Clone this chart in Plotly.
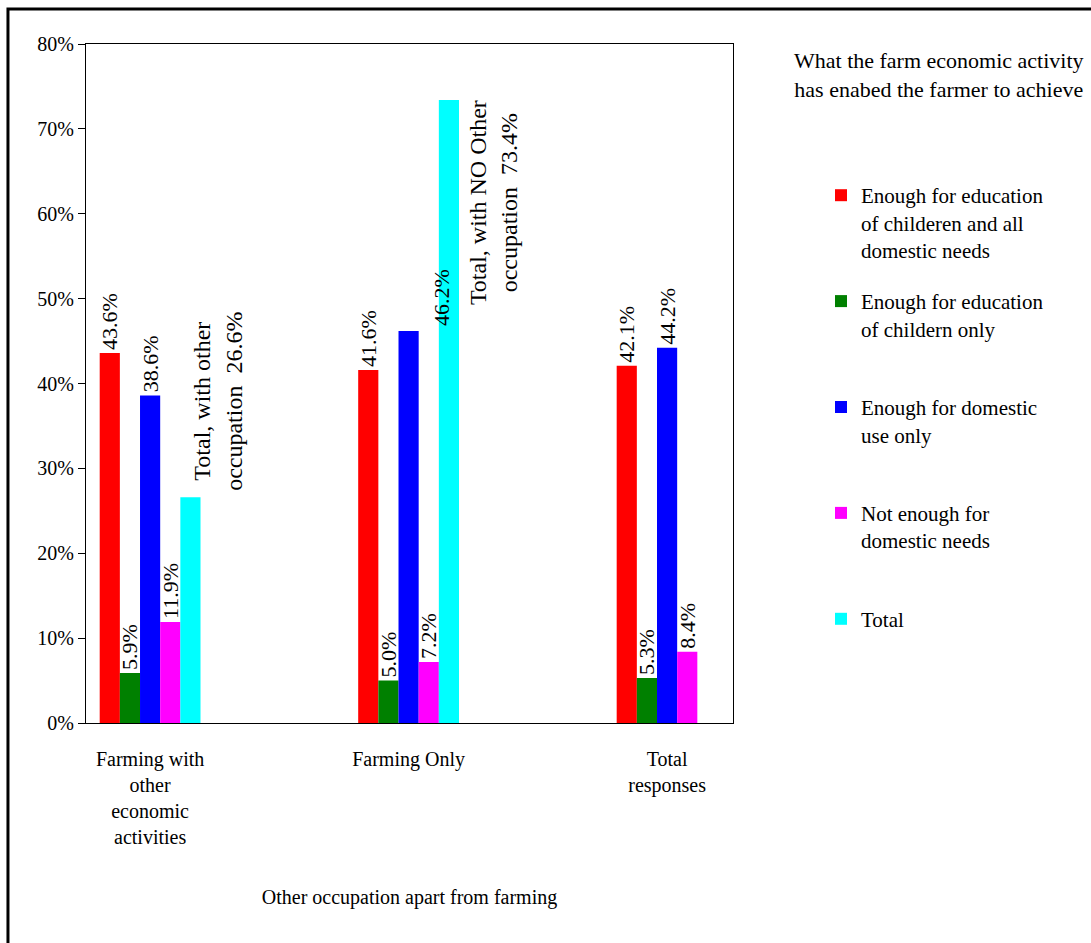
import plotly.graph_objects as go

# Categories (other occupation apart from farming)
categories = ["Farming with<br>other<br>economic<br>activities", "Farming Only", "Total<br>responses"]

# What the farm economic activity enabled the farmer to achieve (% of respondents)
series_names = [
    "Enough for education<br>of childeren and all<br>domestic needs",
    "Enough for education<br>of childern only<br>\u00a0",
    "Enough for domestic<br>use only<br>\u00a0",
    "Not enough for<br>domestic needs<br>\u00a0",
    "Total",
]
edu_and_domestic = [43.6, 41.6, 42.1]
edu_only = [5.9, 5.0, 5.3]
domestic_only = [38.6, 46.2, 44.2]
not_enough = [11.9, 7.2, 8.4]
total_share = [26.6, 73.4, None]

total_labels = ["Total, with other<br>occupation  {:.1f}%", "Total, with NO Other<br>occupation  {:.1f}%"]

colors = ["#FF0000", "#008000", "#0000FF", "#FF00FF", "#00FFFF"]
FONT = "Liberation Serif"

x_pos = list(range(len(categories)))
all_series = [edu_and_domestic, edu_only, domestic_only, not_enough, total_share]

fig = go.Figure()
for i, (name, vals, col) in enumerate(zip(series_names, all_series, colors)):
    if i < 4:
        txt = [f"{v:.1f}%" for v in vals]
        if i == 2:
            txt[1] = ""  # this label is placed separately beside the bar
    else:
        txt = None
    fig.add_trace(go.Bar(
        x=x_pos, y=vals, name=name, marker=dict(color=col, line=dict(width=0)),
        text=txt, textposition="outside" if txt else "none", textangle=-90,
        constraintext="none",
        textfont=dict(family=FONT, size=22, color="black"),
        legendgroup=f"g{i}", cliponaxis=False,
    ))

# value label for the blue bar in "Farming Only", drawn over the neighbouring bar
fig.add_annotation(x=1, y=domestic_only[1], text=f"{domestic_only[1]:.1f}%", textangle=-90,
                   showarrow=False, xanchor="center", yanchor="bottom", xshift=33, yshift=3,
                   font=dict(family=FONT, size=22, color="black"))

# labels for the Total bars
fig.add_annotation(x=0, y=total_share[0], text=total_labels[0].format(total_share[0]), textangle=-90,
                   showarrow=False, xanchor="center", yanchor="bottom", xshift=68, yshift=4,
                   font=dict(family=FONT, size=24, color="black"))
fig.add_annotation(x=1, y=total_share[1], text=total_labels[1].format(total_share[1]), textangle=-90,
                   showarrow=False, xanchor="center", yanchor="top", xshift=85, yshift=2,
                   font=dict(family=FONT, size=24, color="black"))

# legend heading
fig.add_annotation(xref="paper", yref="paper", x=1.318, y=0.954,
                   text="What the farm economic activity<br>has enabed the farmer to achieve",
                   showarrow=False, xanchor="center", yanchor="middle",
                   font=dict(family=FONT, size=22, color="black"))

# outer frame
fig.add_shape(type="rect", xref="paper", yref="paper", x0=-0.1206, x1=1.6, y0=-0.4, y1=1.0515,
              line=dict(color="black", width=3), fillcolor="rgba(0,0,0,0)", layer="above")

fig.update_layout(
    width=1091, height=943,
    margin=dict(l=86, r=358, t=44, b=220, autoexpand=False),
    paper_bgcolor="white", plot_bgcolor="white",
    barmode="group", bargap=0.61, bargroupgap=0,
    font=dict(family=FONT, size=20, color="black"),
    showlegend=True,
    legend=dict(x=1.136, y=0.807, xanchor="left", yanchor="top", valign="top",
                tracegroupgap=21, font=dict(family=FONT, size=21, color="black"),
                bgcolor="rgba(0,0,0,0)", borderwidth=0, traceorder="grouped"),
    xaxis=dict(range=[-0.248, 2.255], tickmode="array", tickvals=x_pos, ticktext=categories,
               showline=True, linecolor="black", linewidth=1, mirror=True, ticks="",
               showgrid=False, zeroline=False, ticklabelstandoff=18,
               tickfont=dict(family=FONT, size=20, color="black"),
               title=dict(text="Other occupation apart from farming", standoff=42,
                          font=dict(family=FONT, size=20, color="black"))),
    yaxis=dict(range=[0, 80], dtick=10, ticksuffix="%", showline=True, linecolor="black",
               linewidth=1, mirror=True, ticks="outside", ticklen=7, tickcolor="black",
               showgrid=False, zeroline=False,
               tickfont=dict(family=FONT, size=20, color="black")),
)

fig.write_html("out.html")
